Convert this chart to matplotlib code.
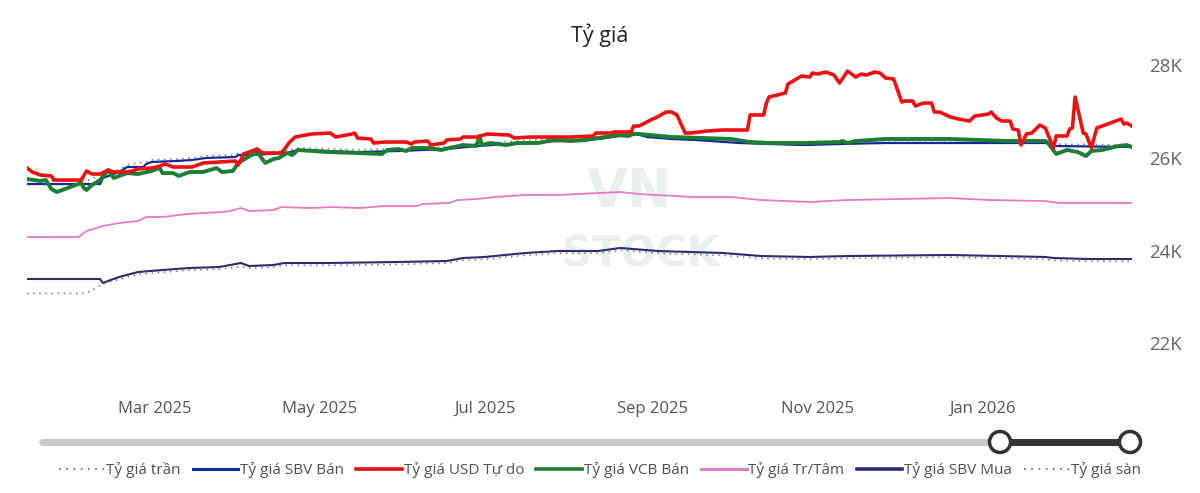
import matplotlib
matplotlib.use("Agg")
import matplotlib.pyplot as plt
import matplotlib.dates as mdates
import pandas as pd
from matplotlib.patches import Circle

plt.rcParams['font.family'] = ['Open Sans', 'DejaVu Sans']

# ---- data ----
usd_free_dates = ["2025-01-13", "2025-01-15", "2025-01-18", "2025-01-22", "2025-01-23", "2025-02-02",
                  "2025-02-04", "2025-02-06", "2025-02-09", "2025-02-12", "2025-02-14", "2025-02-19",
                  "2025-02-21", "2025-02-23", "2025-02-28", "2025-03-02", "2025-03-05", "2025-03-08",
                  "2025-03-15", "2025-03-19", "2025-03-31", "2025-04-01", "2025-04-03", "2025-04-08",
                  "2025-04-10", "2025-04-17", "2025-04-20", "2025-04-22", "2025-04-28", "2025-05-05",
                  "2025-05-07", "2025-05-13", "2025-05-14", "2025-05-15", "2025-05-20", "2025-05-21",
                  "2025-05-25", "2025-06-02", "2025-06-04", "2025-06-05", "2025-06-10", "2025-06-11",
                  "2025-06-16", "2025-06-17", "2025-06-22", "2025-06-23", "2025-06-28", "2025-07-02",
                  "2025-07-10", "2025-07-12", "2025-07-18", "2025-07-28", "2025-08-02", "2025-08-10",
                  "2025-08-11", "2025-08-16", "2025-08-18", "2025-08-24", "2025-08-25", "2025-08-27",
                  "2025-09-01", "2025-09-02", "2025-09-06", "2025-09-08", "2025-09-10", "2025-09-13",
                  "2025-09-15", "2025-09-21", "2025-09-27", "2025-10-06", "2025-10-07", "2025-10-12",
                  "2025-10-13", "2025-10-14", "2025-10-20", "2025-10-21", "2025-10-26", "2025-10-29",
                  "2025-10-30", "2025-11-01", "2025-11-04", "2025-11-06", "2025-11-07", "2025-11-09",
                  "2025-11-12", "2025-11-15", "2025-11-17", "2025-11-19", "2025-11-22", "2025-11-24",
                  "2025-11-26", "2025-11-29", "2025-12-02", "2025-12-03", "2025-12-06", "2025-12-07",
                  "2025-12-10", "2025-12-13", "2025-12-14", "2025-12-16", "2025-12-20", "2025-12-23",
                  "2025-12-27", "2025-12-29", "2026-01-03", "2026-01-04", "2026-01-06", "2026-01-08",
                  "2026-01-11", "2026-01-12", "2026-01-14", "2026-01-15", "2026-01-16", "2026-01-17",
                  "2026-01-19", "2026-01-22", "2026-01-24", "2026-01-27", "2026-01-28", "2026-02-01",
                  "2026-02-02", "2026-02-03", "2026-02-04", "2026-02-07", "2026-02-08", "2026-02-10",
                  "2026-02-12", "2026-02-15", "2026-02-21", "2026-02-22", "2026-02-23", "2026-02-25"]
usd_free_vals = [25784, 25698, 25633, 25612, 25525, 25525,
                 25720, 25655, 25655, 25741, 25698, 25698,
                 25720, 25763, 25784, 25806, 25871, 25806,
                 25806, 25892, 25935, 25849, 26086, 26194,
                 26108, 26108, 26345, 26453, 26518, 26539,
                 26453, 26518, 26539, 26431, 26410, 26324,
                 26345, 26345, 26302, 26345, 26367, 26280,
                 26324, 26388, 26410, 26453, 26453, 26518,
                 26496, 26431, 26453, 26453, 26453, 26475,
                 26539, 26539, 26561, 26561, 26690, 26690,
                 26841, 26863, 26992, 26992, 26928, 26539,
                 26539, 26582, 26604, 26604, 26928, 26928,
                 27186, 27316, 27402, 27596, 27769, 27747,
                 27833, 27812, 27855, 27812, 27790, 27618,
                 27876, 27747, 27812, 27790, 27855, 27833,
                 27726, 27704, 27208, 27229, 27229, 27122,
                 27186, 27186, 26992, 26992, 26884, 26841,
                 26798, 26906, 26949, 26992, 26863, 26798,
                 26798, 26626, 26604, 26280, 26388, 26518,
                 26539, 26712, 26647, 26216, 26475, 26475,
                 26626, 26647, 27316, 26539, 26518, 26216,
                 26647, 26712, 26841, 26733, 26755, 26690]

vcb_sell_dates = ["2025-01-13", "2025-01-18", "2025-01-20", "2025-01-22", "2025-01-24", "2025-02-02",
                  "2025-02-03", "2025-02-04", "2025-02-06", "2025-02-09", "2025-02-12", "2025-02-14",
                  "2025-02-16", "2025-02-19", "2025-02-23", "2025-02-28", "2025-03-03", "2025-03-04",
                  "2025-03-08", "2025-03-10", "2025-03-14", "2025-03-19", "2025-03-24", "2025-03-26",
                  "2025-03-30", "2025-04-01", "2025-04-04", "2025-04-08", "2025-04-11", "2025-04-14",
                  "2025-04-16", "2025-04-19", "2025-04-21", "2025-04-23", "2025-05-04", "2025-05-15",
                  "2025-05-24", "2025-05-26", "2025-05-30", "2025-06-02", "2025-06-04", "2025-06-10",
                  "2025-06-15", "2025-06-18", "2025-06-23", "2025-06-28", "2025-06-29", "2025-06-30",
                  "2025-07-03", "2025-07-09", "2025-07-13", "2025-07-21", "2025-07-26", "2025-08-02",
                  "2025-08-07", "2025-08-12", "2025-08-19", "2025-08-23", "2025-08-25", "2025-08-27",
                  "2025-09-08", "2025-09-20", "2025-09-30", "2025-10-07", "2025-10-14", "2025-10-27",
                  "2025-11-09", "2025-11-10", "2025-11-12", "2025-11-15", "2025-11-26", "2025-12-20",
                  "2026-01-10", "2026-01-24", "2026-01-25", "2026-01-28", "2026-02-01", "2026-02-05",
                  "2026-02-08", "2026-02-10", "2026-02-14", "2026-02-20", "2026-02-23", "2026-02-25"]
vcb_sell_vals = [25547, 25504, 25525, 25331, 25267, 25461,
                 25353, 25310, 25418, 25525, 25741, 25569,
                 25612, 25676, 25655, 25720, 25784, 25676,
                 25676, 25612, 25698, 25698, 25784, 25698,
                 25720, 25892, 26000, 26129, 25892, 25978,
                 26000, 26108, 26065, 26173, 26129, 26108,
                 26086, 26173, 26194, 26151, 26216, 26216,
                 26173, 26216, 26280, 26259, 26475, 26280,
                 26324, 26280, 26324, 26324, 26388, 26367,
                 26388, 26431, 26496, 26475, 26518, 26518,
                 26453, 26431, 26410, 26345, 26324, 26324,
                 26345, 26367, 26324, 26367, 26410, 26410,
                 26367, 26367, 26324, 26086, 26173, 26129,
                 26043, 26151, 26173, 26259, 26280, 26237]

sbv_sell_dates = ["2025-01-13", "2025-02-09", "2025-02-10", "2025-02-16", "2025-02-19", "2025-02-25",
                  "2025-02-26", "2025-02-28", "2025-03-09", "2025-03-15", "2025-03-20", "2025-03-31",
                  "2025-04-01", "2025-04-06", "2025-04-19", "2025-04-23", "2025-05-04", "2025-05-15",
                  "2025-05-30", "2025-06-17", "2025-06-28", "2025-07-21", "2025-08-12", "2025-08-20",
                  "2025-08-26", "2025-08-30", "2025-09-08", "2025-09-17", "2025-10-03", "2025-10-14",
                  "2025-10-27", "2025-11-09", "2025-11-26", "2025-12-20", "2026-01-10", "2026-01-24",
                  "2026-01-28", "2026-02-25"]
sbv_sell_vals = [25439, 25439, 25569, 25698, 25806, 25806,
                 25871, 25914, 25935, 25957, 26000, 26022,
                 26065, 26065, 26108, 26173, 26151, 26129,
                 26151, 26194, 26259, 26345, 26410, 26475,
                 26518, 26453, 26410, 26388, 26324, 26302,
                 26280, 26302, 26324, 26324, 26324, 26324,
                 26259, 26237]

ceiling_dates = ["2025-01-13", "2025-02-04", "2025-02-09", "2025-02-16", "2025-02-19", "2025-02-26",
                 "2025-02-28", "2025-03-09", "2025-03-15", "2025-03-20", "2025-03-31", "2025-04-01",
                 "2025-04-06", "2025-04-19", "2025-04-23", "2025-05-04", "2025-05-15", "2025-05-30",
                 "2025-06-17", "2025-06-28", "2025-07-21", "2025-08-12", "2025-08-20", "2025-08-26",
                 "2025-08-30", "2025-09-08", "2025-09-17", "2025-10-03", "2025-10-14", "2025-10-27",
                 "2025-11-09", "2025-11-26", "2026-01-24", "2026-01-28", "2026-02-25"]
ceiling_vals = [25510, 25510, 25620, 25750, 25850, 25920,
                25960, 25980, 26000, 26050, 26070, 26110,
                26115, 26160, 26220, 26200, 26180, 26200,
                26245, 26310, 26395, 26460, 26525, 26565,
                26500, 26460, 26440, 26375, 26350, 26330,
                26350, 26375, 26375, 26300, 26285]

central_dates = ["2025-01-13", "2025-02-01", "2025-02-04", "2025-02-10", "2025-02-16", "2025-02-23",
                 "2025-02-26", "2025-03-04", "2025-03-13", "2025-03-19", "2025-03-26", "2025-03-29",
                 "2025-04-02", "2025-04-05", "2025-04-14", "2025-04-17", "2025-04-28", "2025-05-05",
                 "2025-05-16", "2025-05-25", "2025-06-06", "2025-06-08", "2025-06-18", "2025-06-21",
                 "2025-06-28", "2025-07-05", "2025-07-16", "2025-07-28", "2025-08-20", "2025-08-27",
                 "2025-09-16", "2025-09-30", "2025-10-11", "2025-10-29", "2025-11-12", "2025-12-20",
                 "2026-01-03", "2026-01-24", "2026-01-29", "2026-02-25"]
central_vals = [24296, 24296, 24425, 24533, 24598, 24641,
                24727, 24727, 24792, 24813, 24835, 24857,
                24921, 24857, 24878, 24943, 24921, 24943,
                24921, 24965, 24965, 25008, 25030, 25094,
                25115, 25159, 25202, 25202, 25267, 25223,
                25159, 25159, 25094, 25051, 25094, 25137,
                25094, 25072, 25030, 25030]

sbv_buy_dates = ["2025-01-13", "2025-02-09", "2025-02-10", "2025-02-12", "2025-02-16", "2025-02-23",
                 "2025-03-04", "2025-03-14", "2025-03-25", "2025-04-02", "2025-04-05", "2025-04-14",
                 "2025-04-18", "2025-05-04", "2025-05-30", "2025-06-17", "2025-06-23", "2025-07-01",
                 "2025-07-16", "2025-07-28", "2025-08-12", "2025-08-20", "2025-09-03", "2025-09-27",
                 "2025-10-11", "2025-10-29", "2025-11-12", "2025-12-20", "2026-01-24", "2026-01-27",
                 "2026-02-09", "2026-02-25"]
sbv_buy_vals = [23390, 23390, 23304, 23350, 23433, 23541,
                23584, 23627, 23649, 23735, 23670, 23692,
                23735, 23735, 23757, 23778, 23843, 23865,
                23951, 23994, 23994, 24059, 23994, 23951,
                23886, 23865, 23886, 23908, 23865, 23843,
                23821, 23821]

floor_dates = ["2025-01-13", "2025-02-03", "2025-02-05", "2025-02-08", "2025-02-10", "2025-02-16",
               "2025-02-23", "2025-03-04", "2025-03-14", "2025-03-25", "2025-04-02", "2025-04-05",
               "2025-04-14", "2025-04-18", "2025-05-04", "2025-05-30", "2025-06-17", "2025-06-23",
               "2025-07-01", "2025-07-16", "2025-07-28", "2025-08-12", "2025-08-20", "2025-09-03",
               "2025-09-27", "2025-10-11", "2025-10-29", "2025-11-12", "2025-12-20", "2026-01-24",
               "2026-01-27", "2026-02-09", "2026-02-25"]
floor_vals = [23080, 23080, 23120, 23210, 23290, 23380,
              23490, 23535, 23580, 23600, 23660, 23625,
              23645, 23685, 23685, 23705, 23730, 23795,
              23815, 23900, 23945, 23945, 24010, 23945,
              23900, 23835, 23815, 23835, 23860, 23815,
              23790, 23770, 23770]

x_ticks = ["2025-03-01", "2025-05-01", "2025-07-01", "2025-09-01", "2025-11-01", "2026-01-01"]
y_ticks = [22000, 24000, 26000, 28000]
y_labels = ["22K", "24K", "26K", "28K"]

# ---- figure ----
fig = plt.figure(figsize=(12, 4.93), dpi=100)
ax = fig.add_axes([27 / 1200, 1 - 370 / 493, (1132 - 27) / 1200, 320 / 493])

dotted = (0, (1, 3))
ax.plot(pd.to_datetime(ceiling_dates), ceiling_vals, color="#777777", lw=1.1, ls=dotted, zorder=2)
ax.plot(pd.to_datetime(floor_dates), floor_vals, color="#777777", lw=1.1, ls=dotted, zorder=2)
ax.plot(pd.to_datetime(central_dates), central_vals, color="#e37cc0", lw=1.3, zorder=3)
ax.plot(pd.to_datetime(sbv_buy_dates), sbv_buy_vals, color="#2e2b6e", lw=1.5, zorder=3)
ax.plot(pd.to_datetime(sbv_sell_dates), sbv_sell_vals, color="#16289a", lw=1.6, zorder=3)
ax.plot(pd.to_datetime(vcb_sell_dates), vcb_sell_vals, color="#1b7e33", lw=2.8, zorder=4)
ax.plot(pd.to_datetime(usd_free_dates), usd_free_vals, color="#ee1111", lw=2.6, zorder=5)

ax.set_xlim(pd.Timestamp("2025-01-13"), pd.Timestamp("2026-02-25"))
ax.set_ylim(21427, 28330)

ax.set_xticks(pd.to_datetime(x_ticks))
ax.xaxis.set_major_formatter(mdates.DateFormatter("%b %Y"))
ax.set_yticks(y_ticks)
ax.set_yticklabels(y_labels)
ax.yaxis.tick_right()
ax.tick_params(axis="x", length=0, pad=22, labelsize=12, labelcolor="#555555")
ax.tick_params(axis="y", length=0, pad=12, labelsize=13.5, labelcolor="#666666")
for s in ax.spines.values():
    s.set_visible(False)

# faint watermark
ax.text(0.545, 0.555, "VN", transform=ax.transAxes, fontsize=38, fontweight="bold",
        color="#ebefef", ha="center", va="center", zorder=0, family="DejaVu Sans")
ax.text(0.555, 0.36, "STOCK", transform=ax.transAxes, fontsize=30, fontweight="bold",
        color="#ebefef", ha="center", va="center", zorder=0, family="DejaVu Sans")

fig.text(0.5, 1 - 35 / 493, "Tỷ giá", ha="center", va="center", fontsize=15.5, color="#252423")

# range slider (decoration)
ov = fig.add_axes([0, 0, 1, 1], zorder=-1)
ov.set_xlim(0, 1200)
ov.set_ylim(493, 0)
ov.axis("off")
ov.plot([42, 1000], [442, 442], color="#c8c8c8", lw=5, solid_capstyle="round")
ov.plot([1000, 1130], [442, 442], color="#333333", lw=5)
for cx in (1000, 1130):
    ov.add_patch(Circle((cx, 442), 10.5, facecolor="white", edgecolor="#333333", lw=2.5, zorder=5))

# legend
handles = [
    plt.Line2D([], [], color="#777777", lw=1.3, ls=dotted),
    plt.Line2D([], [], color="#16289a", lw=2.2),
    plt.Line2D([], [], color="#ee1111", lw=2.6),
    plt.Line2D([], [], color="#1b7e33", lw=2.6),
    plt.Line2D([], [], color="#e37cc0", lw=2.2),
    plt.Line2D([], [], color="#2e2b6e", lw=2.6),
    plt.Line2D([], [], color="#777777", lw=1.3, ls=dotted),
]
labels = ["Tỷ giá trần", "Tỷ giá SBV Bán", "Tỷ giá USD Tự do", "Tỷ giá VCB Bán",
          "Tỷ giá Tr/Tâm", "Tỷ giá SBV Mua", "Tỷ giá sàn"]
leg = fig.legend(handles, labels, loc="center", bbox_to_anchor=(0.5, 1 - 470 / 493), ncol=7,
                 frameon=False, fontsize=11, handlelength=3.0, handletextpad=0.1,
                 columnspacing=0.8, labelcolor="#505050")

fig.savefig("out.png", dpi=100)
